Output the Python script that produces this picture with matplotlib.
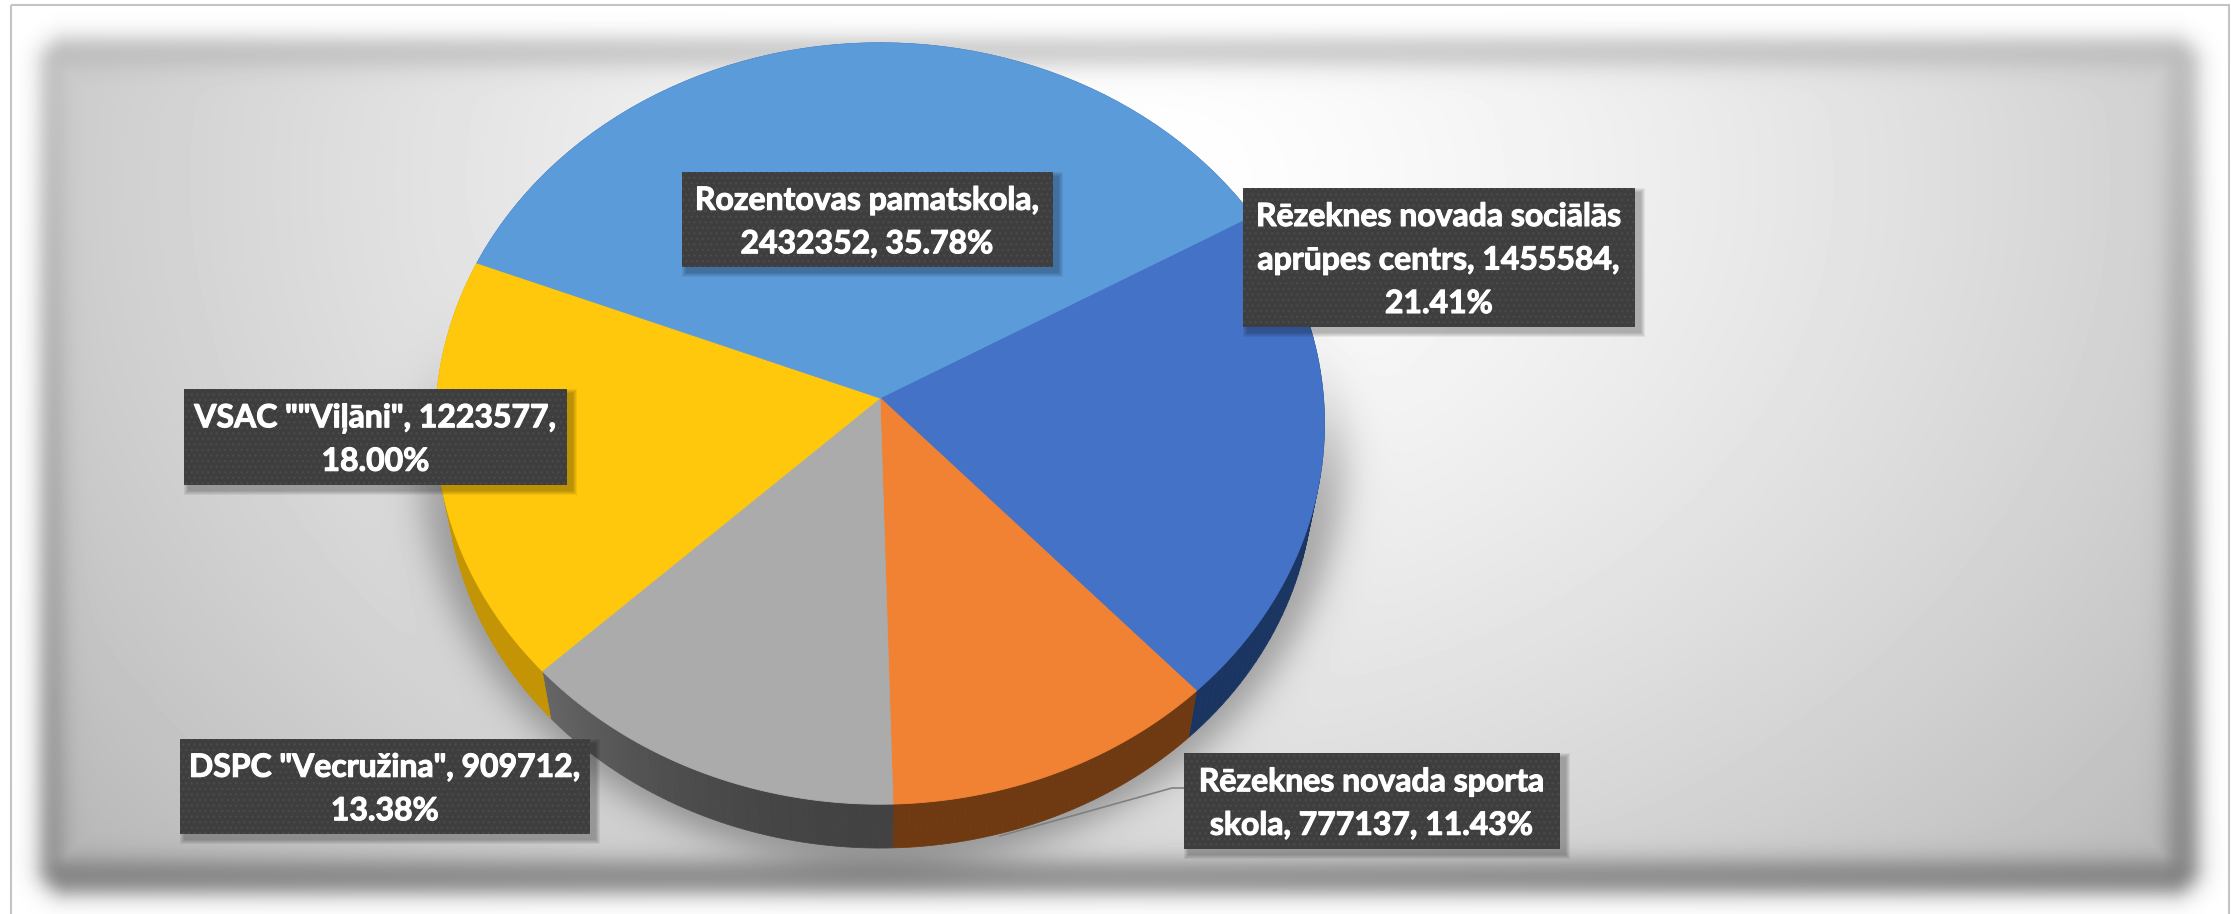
import numpy as np
import matplotlib
matplotlib.use("Agg")
import matplotlib.pyplot as plt
import matplotlib.patheffects as pe
from matplotlib.colors import to_rgb
from matplotlib.patches import Rectangle

# ---- data ----
categories = ['Rēzeknes novada sociālās aprūpes centrs', 'Rēzeknes novada sporta skola',
              'DSPC "Vecružina"', 'VSAC ""Viļāni"', 'Rozentovas pamatskola']
values = [1455584, 777137, 909712, 1223577, 2432352]
top_colors = ['#4472C6', '#F28233', '#ABABAB', '#FFC80C', '#5B9BDA']
side_start = ['#1B3562', '#6F3A12', '#424242', '#C49404', '#2F5C8A']
side_end = ['#1B3562', '#6F3A12', '#666666', '#C49404', '#2F5C8A']
label_lines = [
    ['{c0} sociālās', 'aprūpes centrs, {v},', '{p}'],
    ['{c0} sporta', 'skola, {v}, {p}'],
    ['{c0}, {v},', '{p}'],
    ['{c0}, {v},', '{p}'],
    ['{c0},', '{v}, {p}'],
]
label_heads = ['Rēzeknes novada', 'Rēzeknes novada', 'DSPC "Vecružina"', 'VSAC ""Viļāni"', 'Rozentovas pamatskola']
label_boxes = [(1243, 188, 1635, 327), (1184, 753, 1560, 849), (180, 739, 590, 834),
               (184, 389, 567, 485), (682, 172, 1053, 267)]

W, H = 2231, 914
fig = plt.figure(figsize=(W / 100, H / 100), dpi=100, facecolor='white')
ax = fig.add_axes([0, 0, 1, 1])
ax.set_xlim(0, W)
ax.set_ylim(H, 0)
ax.axis('off')

# ---- panel background ----
yy, xx = np.mgrid[0:H, 0:W] + 0.5


def S(t):
    return 1.0 / (1.0 + np.exp(-t))


def round_box(l, t, rt, b, rad):
    qx = np.abs(xx - (l + rt) / 2) - (rt - l) / 2 + rad
    qy = np.abs(yy - (t + b) / 2) - (b - t) / 2 + rad
    return np.hypot(np.maximum(qx, 0), np.maximum(qy, 0)) + np.minimum(np.maximum(qx, qy), 0) - rad


r = np.sqrt(((xx - 1150) / 1050) ** 2 + ((yy - 180) / 800) ** 2)
grad = np.clip(1 - 0.19 * r ** 1.37, 0, 1)
outer = S(-round_box(41, 38, 2198, 893, 28) / 6.5)
inner = S(-round_box(60, 64, 2170, 862, 10) / 7)
edge = 0.79 - 0.26 * (yy / 880) - 0.06 * np.abs(xx - 1115) / 1115
img = (1 - outer) + outer * (edge * (1 - inner) + grad * inner)

# soft shadow beneath the pie
d = (np.sqrt(((xx - 882) / 465) ** 2 + ((yy - 440) / 425) ** 2) - 1) * 465
shadow = S(-d / 11) * S((yy - 430) / 35)
img = img * (1 - 0.32 * shadow)
ax.imshow(img, cmap='gray', vmin=0, vmax=1, extent=(0, W, H, 0), zorder=0, aspect='auto',
          interpolation='bilinear')
ax.set_xlim(0, W)
ax.set_ylim(H, 0)
ax.add_patch(Rectangle((11, 5), 2218, 915, fc='none', ec='#C4C4C4', lw=1.5, zorder=1))

# ---- pie geometry (perspective ellipse) ----
APEX_X, APEX_Y, A, B, K = 880, 398, 443.5, 379, 0.067
FIRST_ANGLE = 60.2
DEPTH, SHRINK = 54, 0.975


def rim(theta_deg, bottom=False):
    t = np.radians(theta_deg)
    X, Y = np.sin(t), -np.cos(t)
    w = 1 - K * Y
    px, py = A * X / w, B * Y / w
    if bottom:
        return APEX_X + SHRINK * px, APEX_Y + SHRINK * py + DEPTH
    return APEX_X + px, APEX_Y + py


fractions = np.array(values) / np.sum(values)
edges = FIRST_ANGLE + 360 * np.concatenate([[0], np.cumsum(fractions)])

for i in range(len(values)):
    th = np.linspace(edges[i], edges[i + 1], 61)
    tx, ty = rim(th)
    bx, by = rim(th, bottom=True)
    c0, c1 = np.array(to_rgb(side_start[i])), np.array(to_rgb(side_end[i]))
    for j in range(60):
        f = (j + 0.5) / 60
        c = tuple(c0 + (c1 - c0) * f ** 2)
        ax.fill([tx[j], tx[j + 1], bx[j + 1], bx[j]], [ty[j], ty[j + 1], by[j + 1], by[j]],
                fc=c, ec=c, lw=0.5, zorder=2)
for i in range(len(values)):
    th = np.linspace(edges[i], edges[i + 1], 200)
    tx, ty = rim(th)
    ax.fill(np.r_[APEX_X, tx], np.r_[APEX_Y, ty], fc=top_colors[i], ec=top_colors[i], lw=0.6, zorder=3)

# leader line to the sports-school slice (passes behind the pie side)
ax.plot([1184, 1172, 1000], [788, 788, 836], color='#808080', lw=1.2, zorder=1.5)

# ---- data labels ----
for i, (x0, y0, x1, y1) in enumerate(label_boxes):
    for k in range(5, 0, -1):
        ax.add_patch(Rectangle((x0 + 5 - k, y0 + 5 - k), x1 - x0 + 2 * k, y1 - y0 + 2 * k,
                               fc='black', ec='none', alpha=0.06, zorder=4))
    ax.add_patch(Rectangle((x0, y0), x1 - x0, y1 - y0, fc='#3E3E3E', ec='#4A4A4A', lw=0,
                           hatch='...', zorder=5))
    lines = [s.format(c0=label_heads[i], v=values[i], p=f'{fractions[i] * 100:.2f}%') for s in label_lines[i]]
    n = len(lines)
    cy = (y0 + y1) / 2
    for j, s in enumerate(lines):
        ax.text((x0 + x1) / 2, cy + (j - (n - 1) / 2) * 43.5, s, ha='center', va='center_baseline',
                color='white', fontsize=23, fontweight='bold', family=['Lato', 'DejaVu Sans'], zorder=6,
                path_effects=[pe.withStroke(linewidth=0.8, foreground='white')])

fig.savefig('out.png', dpi=100)
